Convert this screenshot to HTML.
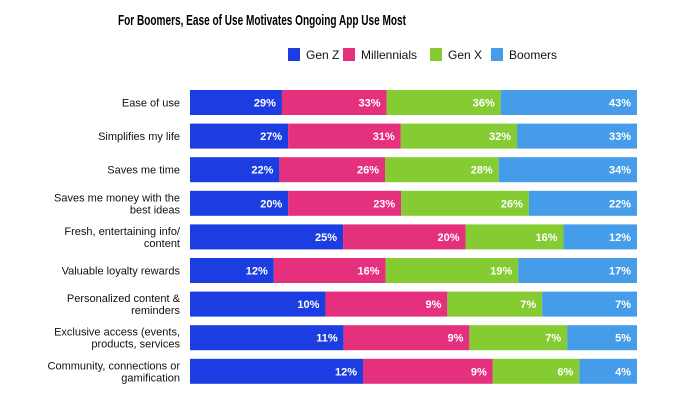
<!DOCTYPE html>
<html><head><meta charset="utf-8"><style>
body{margin:0;background:#fff;width:682px;height:413px;overflow:hidden;font-family:"Liberation Sans",sans-serif}
svg text{font-family:"Liberation Sans",sans-serif}
</style></head><body>
<svg width="682" height="413">
<text x="262" y="25" text-anchor="middle" font-size="15" font-weight="bold" textLength="288" lengthAdjust="spacingAndGlyphs">For Boomers, Ease of Use Motivates Ongoing App Use Most</text>
<g id="legend"></g>
<g id="labels"></g>
<g id="bars"></g>
</svg>
<script>
const categories=[["Ease of use"],["Simplifies my life"],["Saves me time"],["Saves me money with the","best ideas"],["Fresh, entertaining info/","content"],["Valuable loyalty rewards"],["Personalized content &","reminders"],["Exclusive access (events,","products, services"],["Community, connections or","gamification"]];
const seriesNames=["Gen Z","Millennials","Gen X","Boomers"];
const genZ=[29,27,22,20,25,12,10,11,12];
const millennials=[33,31,26,23,20,16,9,9,9];
const genX=[36,32,28,26,16,19,7,7,6];
const boomers=[43,33,34,22,12,17,7,5,4];
const colors=["#1b3de2","#e5307e","#85cc33","#459ce8"];
const series=[genZ,millennials,genX,boomers];
const NS="http://www.w3.org/2000/svg";
const x0=190,x1=637,top0=90,step=33.6,bh=25;
const xs=(frac)=>x0+frac*(x1-x0);
const ys=(i)=>top0+i*step;
function mk(tag,attrs,parent){const e=document.createElementNS(NS,tag);for(const k in attrs)e.setAttribute(k,attrs[k]);parent.appendChild(e);return e;}
const lg=document.getElementById('legend');
const lx=[288,343,430,491];
seriesNames.forEach((n,j)=>{
  const r=mk('rect',{x:lx[j],y:48,width:12,height:13,fill:colors[j]},lg);
  
  
  const t=mk('text',{x:lx[j]+18,y:59,'font-size':12,fill:'#111'},lg);
  t.textContent=n;
  
  
});
const lab=document.getElementById('labels'),bars=document.getElementById('bars');
categories.forEach((c,i)=>{
  const cy=ys(i)+bh/2;
  const t=mk('text',{x:180,'font-size':11,'text-anchor':'end',fill:'#111'},lab);
  
  
  c.forEach((line,k)=>{const ts=mk('tspan',{x:180,y:cy+4+(k-(c.length-1)/2)*12},t);ts.textContent=line;});
  const total=series.reduce((s,a)=>s+a[i],0);
  let acc=0;
  series.forEach((a,j)=>{
    const xa=xs(acc/total);acc+=a[i];const xb=xs(acc/total);
    const r=mk('rect',{x:xa,y:ys(i),width:xb-xa,height:bh,fill:colors[j]},bars);
    
    
    const v=mk('text',{x:xb-6,y:cy+4,'font-size':11,'font-weight':'bold','text-anchor':'end',fill:'#fff'},bars);
    v.textContent=a[i]+'%';
    
    
  });
});
</script>
</body></html>
